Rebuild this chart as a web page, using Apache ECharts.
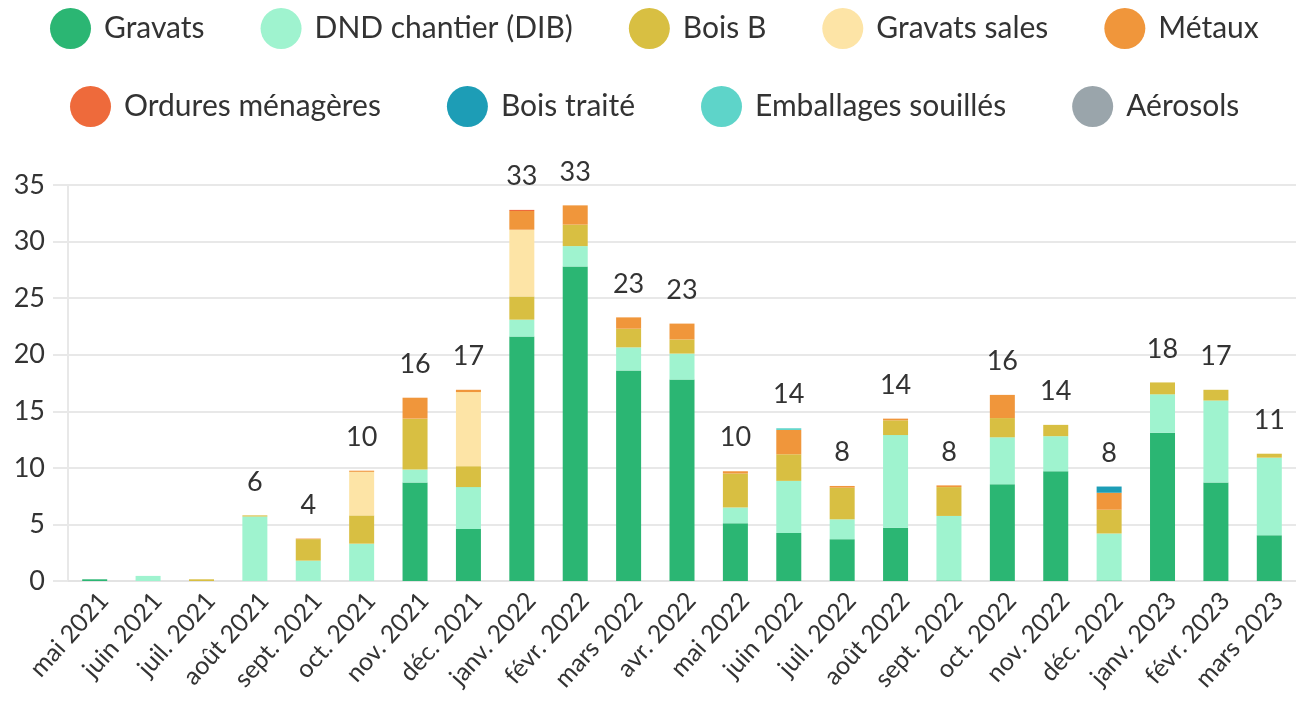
<!DOCTYPE html>
<html><head><meta charset="utf-8">
<script src="https://cdn.jsdelivr.net/npm/echarts@6/dist/echarts.min.js"></script>
<style>html,body{margin:0;padding:0;background:#fff}#c{width:1296px;height:718px}</style>
</head><body><div id="c"></div>
<script>
const categories = ['mai 2021','juin 2021','juil. 2021','août 2021','sept. 2021','oct. 2021','nov. 2021','déc. 2021','janv. 2022','févr. 2022','mars 2022','avr. 2022','mai 2022','juin 2022','juil. 2022','août 2022','sept. 2022','oct. 2022','nov. 2022','déc. 2022','janv. 2023','févr. 2023','mars 2023'];
const gravats        = [0.15,0,0,0,0,0,8.7,4.6,21.6,27.8,18.6,17.8,5.1,4.25,3.7,4.7,0.05,8.55,9.7,0.05,13.1,8.7,4.05];
const dnd            = [0,0.45,0,5.7,1.8,3.3,1.15,3.7,1.5,1.8,2.05,2.3,1.4,4.6,1.75,8.2,5.7,4.15,3.1,4.15,3.4,7.25,6.85];
const boisB          = [0,0,0.15,0.1,1.9,2.5,4.5,1.85,2.05,1.9,1.65,1.25,3.0,2.35,2.8,1.3,2.55,1.7,1.0,2.1,1.05,0.95,0.35];
const gravatsSales   = [0,0,0,0,0,3.85,0,6.55,5.9,0,0,0,0,0,0,0,0,0,0,0,0,0,0];
const metaux         = [0,0,0,0,0.05,0.1,1.85,0.2,1.65,1.7,1.0,1.4,0.2,2.15,0.15,0.15,0.15,2.05,0,1.5,0,0,0];
const ordures        = [0,0,0,0,0,0,0,0,0.1,0,0,0,0,0,0,0,0,0,0,0,0,0,0];
const boisTraite     = [0,0,0,0,0,0,0,0,0,0,0,0,0,0,0,0,0,0,0,0.55,0,0,0];
const emballages     = [0,0,0,0,0,0,0,0,0,0,0,0,0,0.15,0,0,0,0,0,0,0,0,0];
const aerosols       = [0,0,0,0,0,0,0,0,0,0,0,0,0,0,0,0,0,0,0,0,0,0,0];
const yTicks = [0,5,10,15,20,25,30,35];

const seriesDefs = [
  ['Gravats', gravats, '#2bb673'],
  ['DND chantier (DIB)', dnd, '#9ff3cf'],
  ['Bois B', boisB, '#d8bf42'],
  ['Gravats sales', gravatsSales, '#fde4a6'],
  ['Métaux', metaux, '#f0963b'],
  ['Ordures ménagères', ordures, '#ee6a3b'],
  ['Bois traité', boisTraite, '#1d9db6'],
  ['Emballages souillés', emballages, '#5ed4c9'],
  ['Aérosols', aerosols, '#9aa5ab']
];
const totals = categories.map((c,i)=>Math.round(seriesDefs.reduce((s,d)=>s+d[1][i],0)*100)/100);

const FONT = 'Lato';
const series = seriesDefs.map(d=>({
  name:d[0], type:'bar', stack:'t', data:d[1], barWidth:25,
  itemStyle:{color:d[2]}, emphasis:{disabled:true}
}));
series.push({
  name:'total', type:'bar', data:totals, barWidth:25, barGap:'-100%', z:1,
  itemStyle:{color:'rgba(0,0,0,0)'}, silent:true,
  label:{show:true, position:'top', distance:20, color:'#333', fontSize:27, fontFamily:FONT,
    formatter:p=>{const r=Math.round(p.value);return r>0?String(r):'';}}
});

const legendCommon = {
  icon:'circle', itemWidth:41, itemHeight:44, padding:0,
  textStyle:{fontSize:30, color:'#333', fontFamily:FONT, padding:[0,0,0,8]},
  selectedMode:false
};
const chart = echarts.init(document.getElementById('c'), null, {renderer:'canvas'});
chart.setOption({
  animation:false,
  color: seriesDefs.map(d=>d[2]),
  legend:[
    Object.assign({left:50, top:8, itemGap:56, data:seriesDefs.slice(0,5).map(d=>d[0])}, legendCommon),
    Object.assign({left:70, top:86, itemGap:66, data:seriesDefs.slice(5).map(d=>d[0])}, legendCommon)
  ],
  grid:{left:68, right:-12, top:185, bottom:137, containLabel:false},
  xAxis:{type:'category', data:categories,
    axisLine:{show:true, lineStyle:{color:'#e3e3e3', width:2}},
    axisTick:{show:false},
    axisLabel:{rotate:48, interval:0, fontSize:25, color:'#333', fontFamily:FONT, margin:7, verticalAlign:'top'}},
  yAxis:{type:'value', min:yTicks[0], max:yTicks[yTicks.length-1], interval:5,
    axisLine:{show:true, lineStyle:{color:'#e8e8e8', width:2}},
    axisTick:{show:true, length:15, lineStyle:{color:'#e8e8e8', width:2}},
    splitLine:{lineStyle:{color:'#e8e8e8', width:2}},
    axisLabel:{fontSize:27, color:'#333', fontFamily:FONT, margin:23}},
  series:series
});
</script></body></html>
